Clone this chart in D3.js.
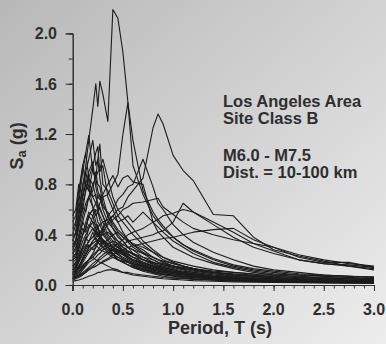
<!DOCTYPE html>
<html><head><meta charset="utf-8">
<script src="https://cdn.jsdelivr.net/npm/d3@7/dist/d3.min.js"></script>
<style>html,body{margin:0;padding:0;background:#d0d0d0;}svg{display:block;}</style>
</head><body><div id="chart"></div>
<script>
// Period grid (s)
const periods = [0,0.03,0.06,0.1,0.13,0.16,0.2,0.23,0.25,0.27,0.3,0.35,0.4,0.45,0.5,0.55,0.6,0.7,0.8,0.85,0.9,1.0,1.1,1.2,1.4,1.6,1.8,2.0,2.25,2.5,2.75,3.0];
// Spectral accelerations (g), one array per record
const s1 = [0.35,0.42,0.55,0.78,0.95,1.15,1.40,1.60,1.42,1.62,1.52,1.30,2.19,2.12,1.85,1.45,1.15,0.75,0.58,0.52,0.47,0.38,0.32,0.28,0.21,0.16,0.13,0.11,0.09,0.08,0.07,0.06];
const s2 = [0.12,0.15,0.2,0.3,0.35,0.45,0.55,0.6,0.58,0.65,0.7,0.72,0.8,0.88,1.2,1.45,0.95,0.72,0.55,0.5,0.45,0.38,0.32,0.27,0.2,0.15,0.12,0.1,0.08,0.07,0.06,0.05];
const s3 = [0.1,0.12,0.15,0.2,0.25,0.3,0.35,0.38,0.4,0.42,0.45,0.5,0.55,0.6,0.62,0.7,0.75,0.85,1.25,1.36,1.28,1.03,0.91,0.83,0.56,0.55,0.38,0.28,0.23,0.19,0.15,0.12];
const s4 = [0.08,0.09,0.1,0.13,0.16,0.2,0.25,0.3,0.33,0.38,0.45,0.55,0.6,0.68,0.72,0.78,0.8,1.0,0.78,0.65,0.6,0.48,0.4,0.34,0.26,0.2,0.15,0.12,0.1,0.08,0.07,0.06];
const s5 = [0.05,0.06,0.07,0.09,0.11,0.13,0.15,0.17,0.19,0.2,0.22,0.25,0.28,0.3,0.32,0.35,0.36,0.38,0.4,0.42,0.43,0.5,0.65,0.58,0.48,0.38,0.3,0.25,0.2,0.17,0.15,0.13];
const s6 = [0.1,0.11,0.13,0.18,0.22,0.26,0.3,0.33,0.35,0.38,0.42,0.48,0.52,0.55,0.6,0.62,0.65,0.66,0.68,0.69,0.62,0.56,0.5,0.45,0.4,0.36,0.33,0.3,0.22,0.18,0.18,0.14];
const s7 = [0.2,0.22,0.3,0.4,0.45,0.55,0.6,0.65,0.7,0.68,0.72,0.8,0.87,0.78,0.85,0.87,0.82,0.8,0.5,0.42,0.38,0.3,0.26,0.22,0.17,0.13,0.1,0.08,0.07,0.06,0.05,0.045];
const s8 = [0.06,0.07,0.08,0.1,0.12,0.14,0.17,0.19,0.2,0.22,0.24,0.27,0.3,0.33,0.36,0.4,0.42,0.45,0.5,0.52,0.55,0.57,0.6,0.58,0.5,0.42,0.33,0.27,0.2,0.17,0.16,0.14];
const s9 = [0.12,0.13,0.18,0.25,0.3,0.35,0.38,0.42,0.45,0.48,0.5,0.52,0.55,0.5,0.52,0.55,0.5,0.58,0.5,0.46,0.42,0.35,0.3,0.25,0.18,0.14,0.11,0.09,0.08,0.07,0.06,0.05];
const s10 = [0.05,0.06,0.07,0.09,0.1,0.12,0.14,0.15,0.16,0.17,0.19,0.21,0.24,0.26,0.28,0.3,0.31,0.33,0.35,0.36,0.37,0.38,0.4,0.42,0.44,0.45,0.36,0.3,0.24,0.2,0.17,0.15];
const a1 = [0.45,0.5,0.7,0.95,1.05,1.19,0.9,0.85,0.75,0.7,0.6,0.5,0.45,0.38,0.35,0.3,0.28,0.22,0.18,0.16,0.15,0.13,0.11,0.1,0.08,0.06,0.05,0.045,0.04,0.035,0.03,0.028];
const a2 = [0.35,0.42,0.6,0.8,0.9,1.0,1.15,0.95,1.0,0.85,0.7,0.55,0.48,0.42,0.38,0.34,0.3,0.25,0.2,0.18,0.16,0.14,0.12,0.1,0.08,0.065,0.055,0.045,0.04,0.035,0.03,0.027];
const a3 = [0.3,0.35,0.45,0.6,0.75,0.85,0.95,1.05,1.1,0.9,0.95,0.7,0.6,0.5,0.42,0.36,0.32,0.26,0.22,0.2,0.18,0.15,0.13,0.11,0.09,0.07,0.06,0.05,0.045,0.04,0.035,0.03];
const a4 = [0.4,0.48,0.65,0.9,1.05,0.85,0.8,0.7,0.65,0.6,0.55,0.45,0.38,0.32,0.28,0.25,0.22,0.18,0.15,0.13,0.12,0.1,0.09,0.08,0.06,0.05,0.04,0.035,0.03,0.028,0.025,0.022];
const a5 = [0.25,0.3,0.4,0.55,0.65,0.7,0.8,0.85,0.9,0.92,1.0,0.85,0.7,0.6,0.55,0.5,0.45,0.35,0.28,0.25,0.22,0.18,0.15,0.13,0.1,0.08,0.07,0.06,0.05,0.045,0.04,0.035];
const a6 = [0.5,0.55,0.75,0.95,0.8,0.75,0.7,0.65,0.6,0.62,0.55,0.45,0.4,0.35,0.3,0.27,0.24,0.2,0.17,0.15,0.14,0.12,0.1,0.09,0.07,0.06,0.05,0.04,0.035,0.03,0.028,0.025];
const a7 = [0.2,0.25,0.35,0.5,0.6,0.7,0.75,0.9,0.8,0.78,0.65,0.55,0.45,0.4,0.35,0.3,0.25,0.2,0.16,0.14,0.12,0.1,0.09,0.08,0.06,0.05,0.04,0.035,0.03,0.027,0.025,0.022];
const a8 = [0.28,0.33,0.48,0.7,0.8,0.75,0.92,0.85,1.0,1.12,0.8,0.75,0.65,0.55,0.5,0.45,0.4,0.32,0.26,0.23,0.2,0.17,0.15,0.13,0.1,0.08,0.07,0.06,0.05,0.045,0.04,0.035];
const a9 = [0.3,0.35,0.5,0.65,0.75,0.85,0.7,0.72,0.6,0.55,0.5,0.4,0.35,0.3,0.26,0.22,0.2,0.16,0.13,0.12,0.1,0.09,0.08,0.07,0.055,0.045,0.04,0.035,0.03,0.027,0.025,0.022];
const a10 = [0.38,0.4,0.55,0.72,0.8,0.9,0.98,0.78,0.7,0.72,0.62,0.58,0.5,0.44,0.4,0.36,0.32,0.28,0.22,0.2,0.18,0.15,0.13,0.12,0.09,0.075,0.065,0.055,0.05,0.045,0.04,0.035];
const b1 = [0.15,0.18,0.25,0.35,0.4,0.45,0.5,0.48,0.45,0.42,0.4,0.35,0.3,0.27,0.25,0.22,0.2,0.16,0.13,0.12,0.11,0.1,0.09,0.08,0.06,0.05,0.045,0.04,0.035,0.03,0.028,0.025];
const b2 = [0.1,0.12,0.18,0.25,0.3,0.35,0.38,0.4,0.42,0.38,0.35,0.32,0.3,0.28,0.25,0.23,0.2,0.18,0.15,0.14,0.13,0.11,0.1,0.09,0.07,0.06,0.05,0.045,0.04,0.035,0.032,0.03];
const b3 = [0.2,0.22,0.3,0.4,0.45,0.55,0.6,0.5,0.45,0.4,0.35,0.3,0.25,0.22,0.2,0.18,0.16,0.13,0.1,0.09,0.08,0.07,0.06,0.05,0.04,0.035,0.03,0.025,0.022,0.02,0.018,0.016];
const b4 = [0.08,0.1,0.15,0.2,0.25,0.3,0.33,0.35,0.36,0.38,0.4,0.42,0.38,0.35,0.32,0.3,0.28,0.25,0.22,0.2,0.19,0.17,0.15,0.13,0.1,0.085,0.075,0.065,0.06,0.055,0.05,0.045];
const b5 = [0.12,0.14,0.2,0.28,0.32,0.3,0.35,0.38,0.34,0.32,0.3,0.28,0.25,0.2,0.18,0.16,0.14,0.12,0.1,0.09,0.085,0.075,0.065,0.06,0.05,0.04,0.035,0.03,0.025,0.022,0.02,0.018];
const b6 = [0.05,0.06,0.08,0.12,0.15,0.18,0.2,0.22,0.24,0.25,0.28,0.3,0.32,0.3,0.28,0.26,0.25,0.22,0.2,0.18,0.17,0.15,0.13,0.12,0.1,0.09,0.08,0.07,0.06,0.055,0.05,0.045];
const b7 = [0.18,0.2,0.28,0.4,0.5,0.58,0.55,0.45,0.4,0.38,0.33,0.28,0.24,0.2,0.18,0.16,0.14,0.11,0.09,0.08,0.07,0.06,0.055,0.05,0.04,0.032,0.028,0.024,0.02,0.018,0.016,0.015];
const b8 = [0.06,0.07,0.1,0.15,0.18,0.2,0.22,0.25,0.27,0.28,0.3,0.32,0.35,0.33,0.3,0.27,0.25,0.2,0.17,0.15,0.14,0.12,0.1,0.09,0.07,0.06,0.05,0.045,0.04,0.035,0.032,0.03];
const b9 = [0.22,0.25,0.33,0.45,0.42,0.48,0.45,0.4,0.42,0.38,0.34,0.3,0.28,0.25,0.22,0.2,0.18,0.15,0.12,0.11,0.1,0.09,0.08,0.07,0.055,0.045,0.04,0.035,0.03,0.027,0.025,0.022];
const b10 = [0.04,0.05,0.06,0.08,0.1,0.12,0.14,0.15,0.16,0.17,0.18,0.2,0.22,0.2,0.19,0.18,0.17,0.15,0.13,0.12,0.11,0.1,0.09,0.08,0.065,0.055,0.05,0.045,0.04,0.035,0.032,0.03];
const b11 = [0.1,0.11,0.14,0.2,0.24,0.28,0.3,0.32,0.3,0.28,0.27,0.25,0.22,0.2,0.18,0.16,0.15,0.12,0.1,0.09,0.085,0.075,0.068,0.06,0.05,0.042,0.036,0.032,0.028,0.025,0.022,0.02];
const b12 = [0.15,0.17,0.22,0.3,0.36,0.4,0.45,0.42,0.38,0.4,0.36,0.32,0.3,0.28,0.26,0.24,0.22,0.2,0.18,0.17,0.16,0.15,0.14,0.13,0.11,0.1,0.09,0.085,0.08,0.075,0.07,0.065];
const b13 = [0.03,0.035,0.04,0.05,0.06,0.07,0.08,0.09,0.1,0.1,0.11,0.12,0.12,0.11,0.1,0.1,0.09,0.08,0.07,0.065,0.06,0.055,0.05,0.045,0.04,0.035,0.03,0.027,0.025,0.022,0.02,0.018];
const b14 = [0.08,0.09,0.12,0.16,0.18,0.2,0.22,0.2,0.19,0.18,0.17,0.15,0.13,0.12,0.1,0.09,0.08,0.07,0.06,0.055,0.05,0.045,0.04,0.035,0.03,0.025,0.022,0.02,0.018,0.016,0.015,0.014];
const c1 = [0.25,0.28,0.38,0.5,0.45,0.55,0.5,0.42,0.48,0.4,0.36,0.3,0.27,0.24,0.21,0.19,0.17,0.14,0.11,0.1,0.09,0.08,0.07,0.065,0.05,0.04,0.035,0.03,0.027,0.024,0.022,0.02];
const c2 = [0.14,0.16,0.24,0.3,0.38,0.34,0.42,0.36,0.33,0.36,0.3,0.26,0.24,0.22,0.2,0.18,0.16,0.13,0.11,0.1,0.09,0.08,0.07,0.06,0.05,0.04,0.035,0.03,0.026,0.023,0.02,0.018];
const c3 = [0.55,0.6,0.8,0.7,0.9,0.78,0.62,0.58,0.5,0.48,0.42,0.36,0.3,0.26,0.24,0.21,0.19,0.15,0.12,0.11,0.1,0.09,0.08,0.07,0.055,0.045,0.04,0.035,0.03,0.027,0.024,0.022];
const c4 = [0.09,0.1,0.14,0.22,0.28,0.32,0.28,0.3,0.35,0.32,0.36,0.33,0.28,0.26,0.24,0.22,0.2,0.17,0.14,0.13,0.12,0.1,0.09,0.08,0.065,0.055,0.048,0.042,0.038,0.034,0.03,0.028];
const c5 = [0.32,0.36,0.5,0.62,0.58,0.7,0.62,0.55,0.58,0.52,0.45,0.38,0.33,0.3,0.27,0.24,0.22,0.18,0.15,0.14,0.13,0.11,0.1,0.09,0.07,0.06,0.05,0.045,0.04,0.036,0.033,0.03];
const c6 = [0.07,0.08,0.1,0.14,0.17,0.2,0.24,0.26,0.28,0.3,0.33,0.36,0.4,0.42,0.38,0.35,0.33,0.3,0.26,0.24,0.22,0.19,0.17,0.15,0.12,0.1,0.085,0.075,0.065,0.058,0.052,0.048];
const records = [s1,s2,s3,s4,s5,s6,s7,s8,s9,s10,a1,a2,a3,a4,a5,a6,a7,a8,a9,a10,b1,b2,b3,b4,b5,b6,b7,b8,b9,b10,b11,b12,b13,b14,c1,c2,c3,c4,c5,c6];

const xTicks = [0,0.5,1.0,1.5,2.0,2.5,3.0];
const xMinor = [0,0.1,0.2,0.3,0.4,0.5,0.6,0.7,0.8,0.9,1.0,1.1,1.2,1.3,1.4,1.5,1.6,1.7,1.8,1.9,2.0,2.1,2.2,2.3,2.4,2.5,2.6,2.7,2.8,2.9,3.0];
const yTicks = [0,0.4,0.8,1.2,1.6,2.0];
const yMinor = [0,0.2,0.4,0.6,0.8,1.0,1.2,1.4,1.6,1.8,2.0];
const noteLines = ["Los Angeles Area","Site Class B","","M6.0 - M7.5","Dist. = 10-100 km"];

const W = 386, H = 344;
const font = "'Liberation Sans', Arial, Helvetica, sans-serif";
const ink = "#2e2e2e";
const svg = d3.select("#chart").append("svg").attr("width", W).attr("height", H);
const defs = svg.append("defs");
const grad = defs.append("linearGradient").attr("id","bg").attr("x1","0").attr("y1","0").attr("x2","1").attr("y2","1");
grad.append("stop").attr("offset","0").attr("stop-color","#b8b8b8");
grad.append("stop").attr("offset","1").attr("stop-color","#ededed");
svg.append("rect").attr("width",W).attr("height",H).attr("fill","url(#bg)");

const x = d3.scaleLinear().domain([0,3]).range([72.7,374]);
const y = d3.scaleLinear().domain([0,2]).range([285,33.4]);

// spectra
const line = d3.line().x((d,i)=>x(periods[i])).y(d=>y(d));
svg.append("g").selectAll("path").data(records).join("path")
  .attr("d", line).attr("fill","none").attr("stroke","#1c1c1c").attr("stroke-width",1.1).attr("stroke-linejoin","round");

// x axis
const gx = svg.append("g").attr("transform",`translate(0,${y(0)})`);
gx.call(d3.axisBottom(x).tickValues(xMinor).tickSize(3.5).tickFormat(""));
gx.call(g=>g.append("g").call(d3.axisBottom(x).tickValues(xTicks).tickSize(6).tickFormat("")));
gx.selectAll(".domain").attr("stroke",ink);
gx.selectAll(".tick line").attr("stroke",ink);
svg.append("g").selectAll("text").data(xTicks).join("text")
  .attr("x",d=>x(d)).attr("y",315).attr("text-anchor","middle")
  .attr("font-family",font).attr("font-weight","bold").attr("font-size",16).attr("fill",ink)
  .text(d=>d3.format(".1f")(d));

// y axis
const gy = svg.append("g").attr("transform",`translate(${x(0)},0)`);
gy.call(d3.axisLeft(y).tickValues(yMinor).tickSize(4).tickFormat(""));
gy.call(g=>g.append("g").call(d3.axisLeft(y).tickValues(yTicks).tickSize(7).tickFormat("")));
gy.selectAll(".domain").attr("stroke",ink);
gy.selectAll(".tick line").attr("stroke",ink);
svg.append("line").attr("x1",x(0)).attr("x2",x(0)).attr("y1",y(0)).attr("y2",y(0)+6).attr("stroke",ink);
svg.append("g").selectAll("text").data(yTicks).join("text")
  .attr("x",57).attr("y",d=>y(d)+6).attr("text-anchor","end")
  .attr("font-family",font).attr("font-weight","bold").attr("font-size",16).attr("fill",ink)
  .text(d=>d3.format(".1f")(d));

// axis titles
svg.append("text").attr("x",220).attr("y",334).attr("text-anchor","middle")
  .attr("font-family",font).attr("font-weight","bold").attr("font-size",18).attr("fill",ink)
  .text("Period, T (s)");
const yt = svg.append("text").attr("transform","translate(23,146) rotate(-90)").attr("text-anchor","middle")
  .attr("font-family",font).attr("font-weight","bold").attr("font-size",18).attr("fill",ink);
yt.append("tspan").text("S");
yt.append("tspan").attr("font-size",13).attr("dy",3).text("a");
yt.append("tspan").attr("dy",-3).text(" (g)");

// note
svg.append("g").selectAll("text").data(noteLines).join("text")
  .attr("x",223).attr("y",(d,i)=>[107,124,141,161,178][i])
  .attr("font-family",font).attr("font-weight","bold").attr("font-size",16.5).attr("fill",ink)
  .text(d=>d);
</script></body></html>
